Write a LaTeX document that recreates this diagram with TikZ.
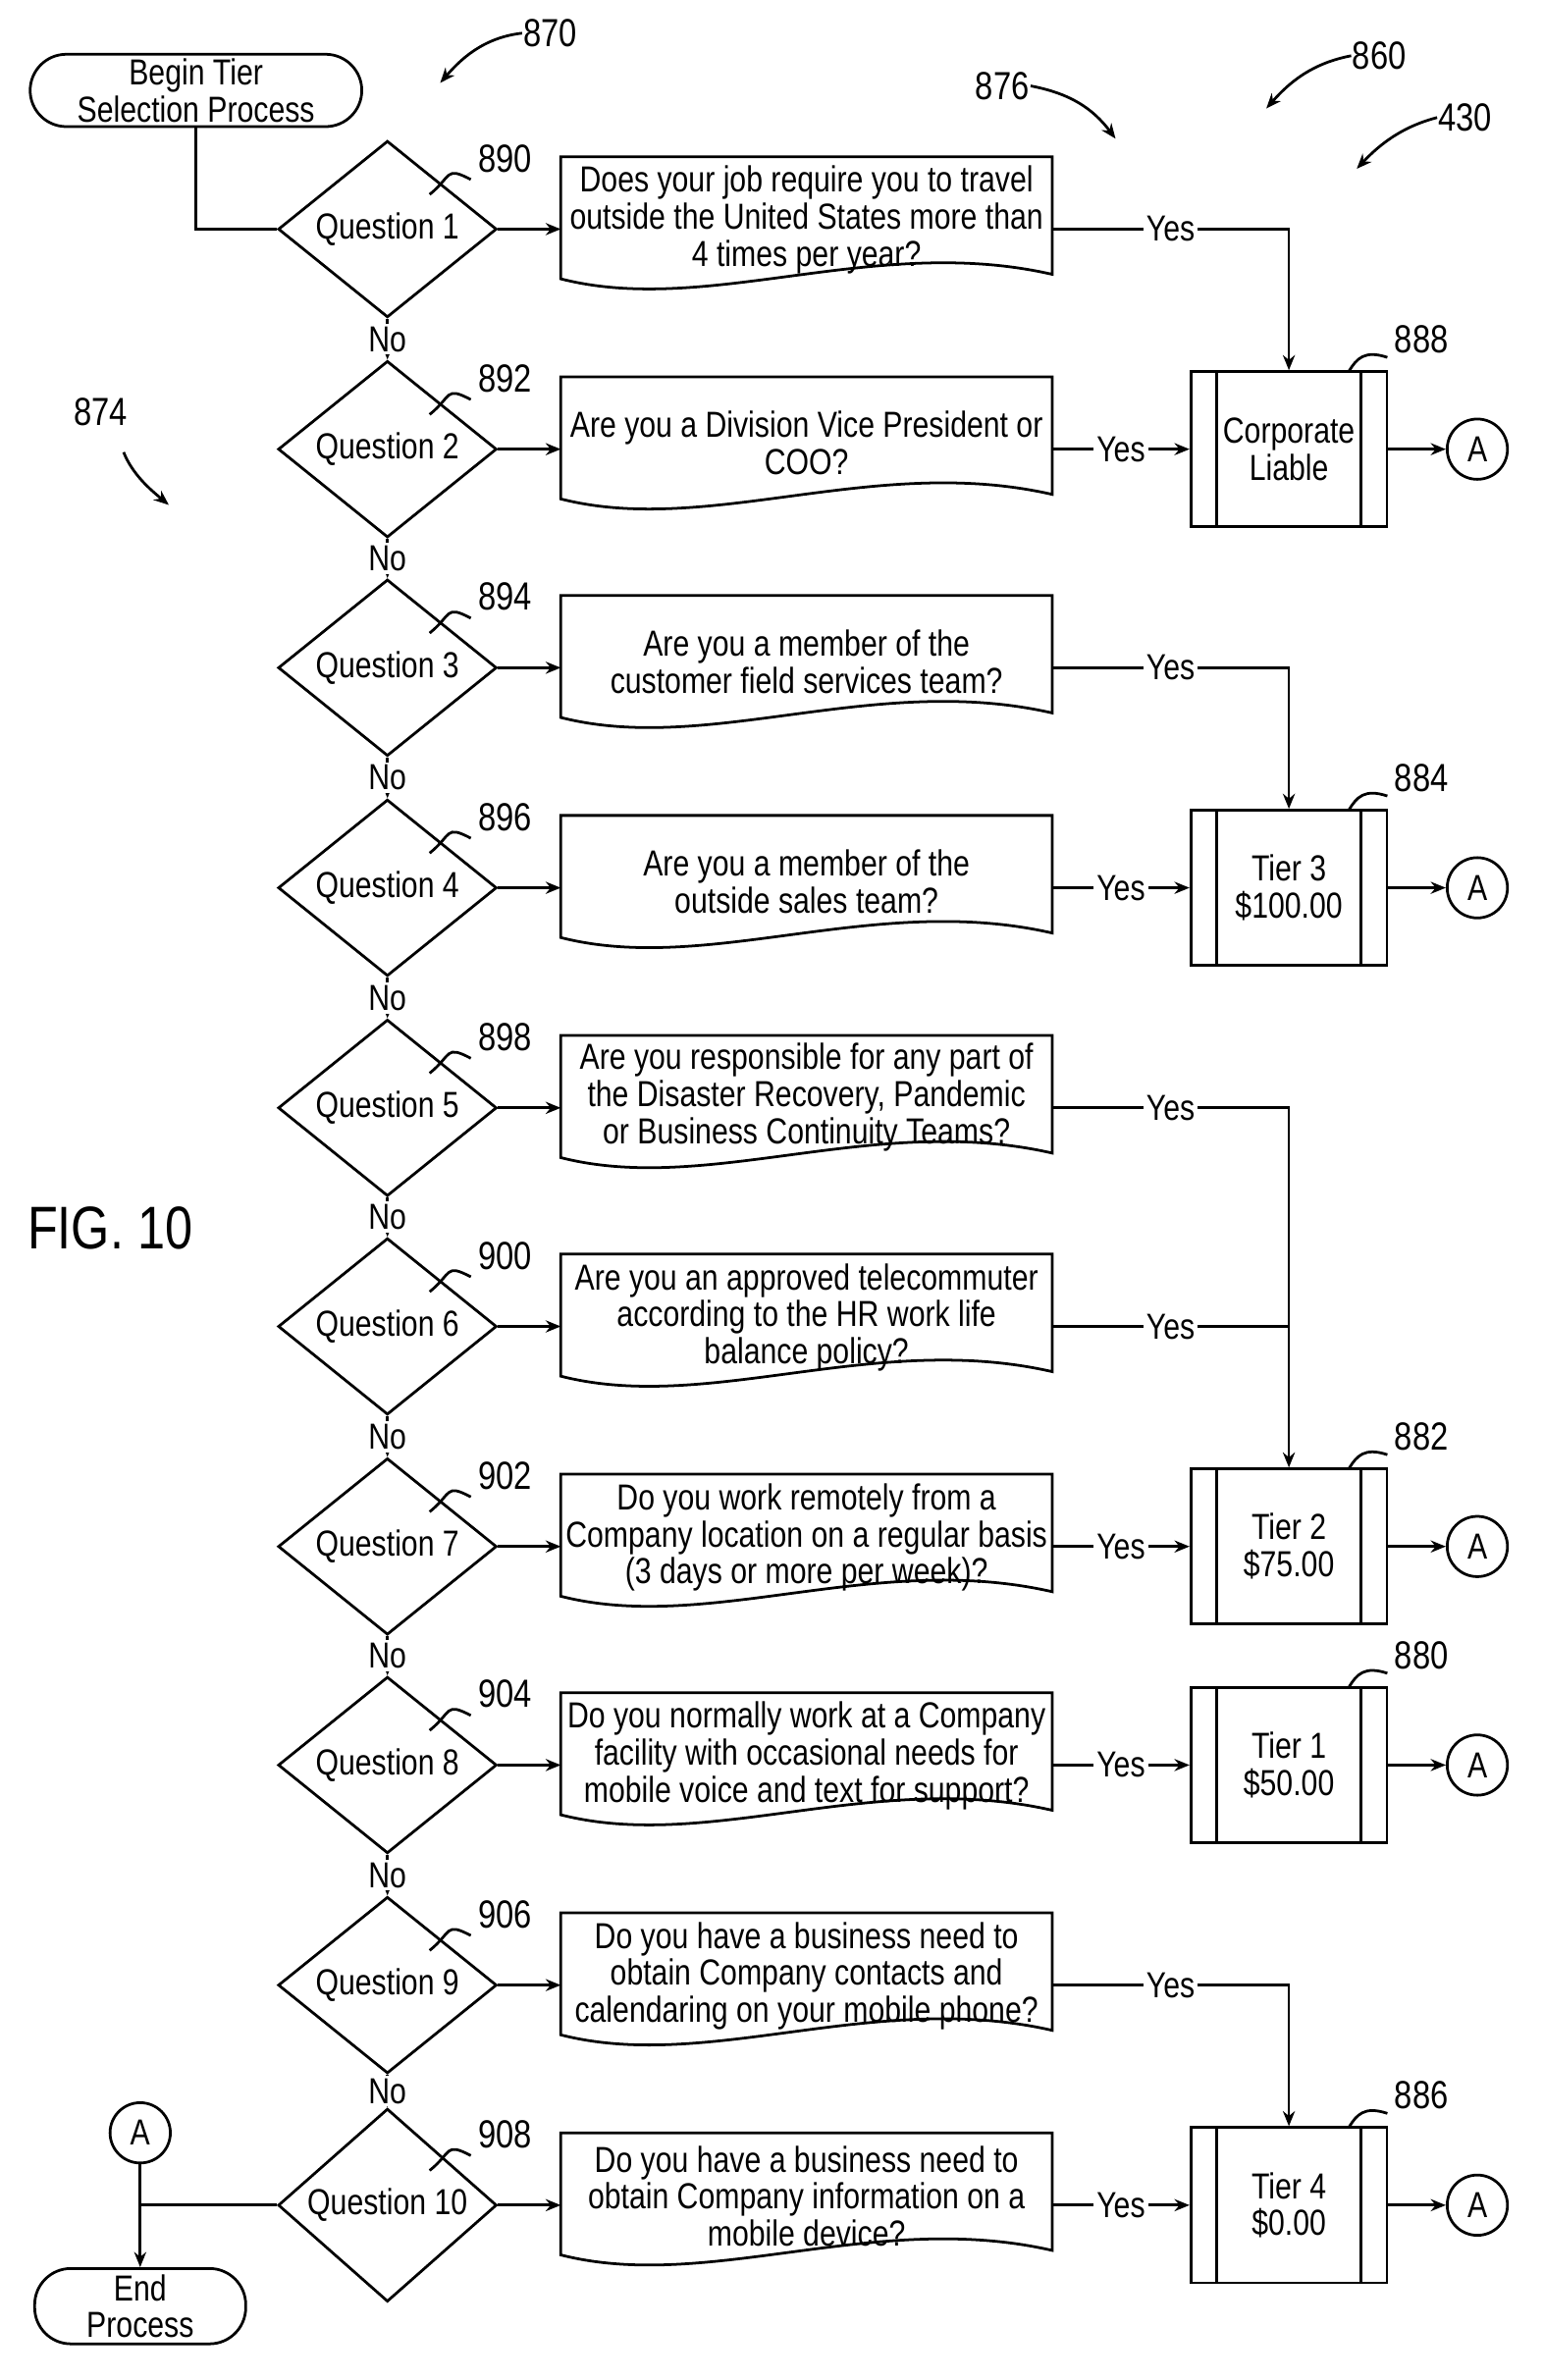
\documentclass[tikz,border=0pt]{standalone}
\usepackage{fontspec}
\setmainfont{Liberation Sans}[FakeStretch=0.82]
\usetikzlibrary{shapes.geometric,arrows.meta,calc}
\begin{document}
\begin{tikzpicture}[x=0.5pt,y=-0.5pt,line width=0.9pt,
  font=\fontsize{12}{12.3}\selectfont,
  arr/.style={-{Stealth[length=5pt,width=4pt]}},
  dia/.style={diamond,draw,minimum width=72.5pt,minimum height=52.5pt,inner sep=0pt},
  term/.style={draw,rounded corners=12pt,align=center,inner sep=0pt},
  box/.style={draw,minimum width=65pt,minimum height=51.5pt,align=center,inner sep=0pt},
  con/.style={circle,draw,minimum size=20pt,inner sep=0pt},
  txt/.style={align=center,inner sep=0pt},
  lbl/.style={inner sep=1pt,fill=white},
  ref/.style={font=\fontsize{13}{13}\selectfont,inner sep=0pt}]
\useasboundingbox (0,0) rectangle (1024,1579);
% begin
\node[term,minimum width=110pt,minimum height=24pt] (begin) at (130,60) {Begin Tier\\Selection Process};
% questions
\foreach \i/\y/\r in {1/152/890,2/298/892,3/443/894,4/589/896,5/735/898,6/880/900,7/1026/902,8/1171/904,9/1317/906,10/1463/908}{
  \node[dia] (q\i) at (257,\y) {Question \i};
  \node[inner sep=0pt] (d\i) at (535,\y) {};
  \draw (372,\y-48) -- (698,\y-48) -- (698,\y+30) .. controls (580,\y+3) and (470,\y+58) .. (372,\y+33) -- cycle;
  \coordinate (dw\i) at (372,\y);
  \coordinate (de\i) at (698,\y);
  \draw[arr] (q\i.east) -- (dw\i);
  \node[ref] (r\i) at (335,\y-47) {\r};
  \draw (r\i.south west) ++(-4,4) .. controls (295,\y-42) and (300,\y-35) .. (285,\y-23);
}
\node[txt] (t1) at (535,146) {Does your job require you to travel\\outside the United States more than\\4 times per year?};
\node[txt] (t2) at (535,294) {Are you a Division Vice President or\\COO?};
\node[txt] (t3) at (535,439) {Are you a member of the\\customer field services team?};
\node[txt] (t4) at (535,585) {Are you a member of the\\outside sales team?};
\node[txt] (t5) at (535,728) {Are you responsible for any part of\\the Disaster Recovery, Pandemic\\or Business Continuity Teams?};
\node[txt] (t6) at (535,874) {Are you an approved telecommuter\\according to the HR work life\\balance policy?};
\node[txt] (t7) at (535,1020) {Do you work remotely from a\\Company location on a regular basis\\(3 days or more per week)?};
\node[txt] (t8) at (535,1165) {Do you normally work at a Company\\facility with occasional needs for\\mobile voice and text for support?};
\node[txt] (t9) at (535,1311) {Do you have a business need to\\obtain Company contacts and\\calendaring on your mobile phone?};
\node[txt] (t10) at (535,1457) {Do you have a business need to\\obtain Company information on a\\mobile device?};
% start connector
\draw (begin.south) -- (130,152) -- (q1.west);
% No arrows
\foreach \a/\b in {1/2,2/3,3/4,4/5,5/6,6/7,7/8,8/9,9/10}{
  \draw[arr] (q\a.south) -- node[lbl]{No} (q\b.north);
}
% boxes
\foreach \n/\y/\t/\r in {bc/298/{Corporate\\Liable}/888,b3/589/{Tier 3\\\$100.00}/884,b2/1026/{Tier 2\\\$75.00}/882,b1/1171/{Tier 1\\\$50.00}/880,b4/1463/{Tier 4\\\$0.00}/886}{
  \node[box] (\n) at (855,\y) {\t};
  \draw ($(\n.north west)+(18,0)$) -- ($(\n.south west)+(18,0)$);
  \draw ($(\n.north east)+(-18,0)$) -- ($(\n.south east)+(-18,0)$);
  \node[con] (a\n) at (980,\y) {A};
  \draw[arr] (\n.east) -- (a\n.west);
  \node[ref] (r\n) at (943,\y-73) {\r};
  \draw (r\n.south west) ++(-4,2) .. controls (905,\y-66) and (900,\y-60) .. (895,\y-52);
}
% yes connectors
\draw[arr] (de1) -- node[lbl,pos=0.5]{Yes} (855,152) -- (bc.north);
\draw[arr] (de2) -- node[lbl]{Yes} (bc.west);
\draw[arr] (de3) -- node[lbl,pos=0.5]{Yes} (855,443) -- (b3.north);
\draw[arr] (de4) -- node[lbl]{Yes} (b3.west);
\draw[arr] (de5) -- node[lbl,pos=0.5]{Yes} (855,735) -- (b2.north);
\draw (de6) -- node[lbl,pos=0.5]{Yes} (855,880);
\draw[arr] (de7) -- node[lbl]{Yes} (b2.west);
\draw[arr] (de8) -- node[lbl]{Yes} (b1.west);
\draw[arr] (de9) -- node[lbl,pos=0.5]{Yes} (855,1317) -- (b4.north);
\draw[arr] (de10) -- node[lbl]{Yes} (b4.west);
% end
\node[con] (aend) at (93,1415) {A};
\node[term,minimum width=70pt,minimum height=25pt] (end) at (93,1530) {End\\Process};
\coordinate (jn) at (93,1463);
\draw (q10.west) -- (jn);
\draw[arr] (aend.south) -- (end.north);
% figure refs
\node[ref] (r870) at (365,22) {870};
\draw[arr] (r870.west) .. controls (320,25) and (305,40) .. (292,55);
\node[ref] (r876) at (665,57) {876};
\draw[arr] (r876.east) .. controls (710,62) and (725,72) .. (740,92);
\node[ref] (r860) at (915,37) {860};
\draw[arr] (r860.west) .. controls (870,42) and (855,55) .. (840,72);
\node[ref] (r430) at (972,78) {430};
\draw[arr] (r430.west) .. controls (930,84) and (915,96) .. (900,112);
\node[ref] (r874) at (67,273) {874};
\draw[arr] (82,300) .. controls (88,315) and (100,325) .. (112,335);
\node[font=\fontsize{20}{20}\selectfont,inner sep=0pt] (fig) at (73,815) {FIG. 10};
\end{tikzpicture}
\end{document}
